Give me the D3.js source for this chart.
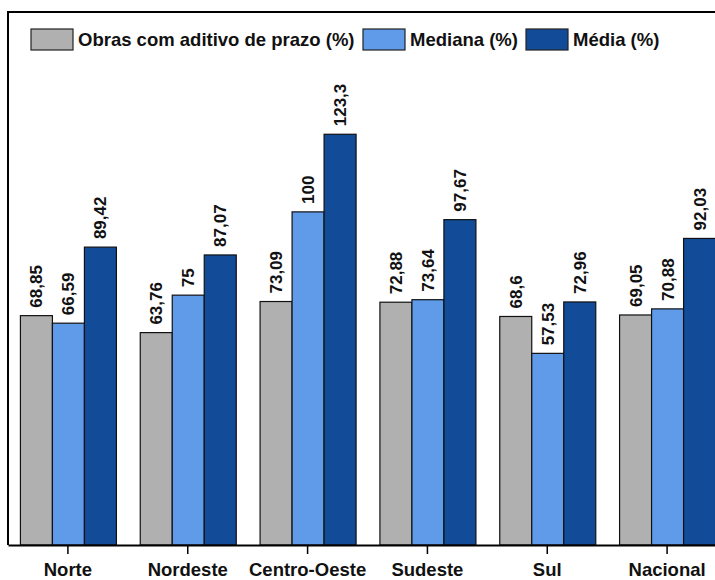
<!DOCTYPE html>
<html>
<head>
<meta charset="utf-8">
<script src="https://cdn.jsdelivr.net/npm/d3@7"></script>
<style>
  html, body { margin: 0; padding: 0; background: #fff; }
  svg { display: block; font-family: "Liberation Sans", Arial, sans-serif; }
</style>
</head>
<body>
<svg id="chart" width="715" height="580"></svg>
<script>
// Regions and the three series (percent values)
const regions = ["Norte", "Nordeste", "Centro-Oeste", "Sudeste", "Sul", "Nacional"];
const seriesNames = ["Obras com aditivo de prazo (%)", "Mediana (%)", "Média (%)"];
const obras   = [68.85, 63.76, 73.09, 72.88, 68.6, 69.05];
const mediana = [66.59, 75, 100, 73.64, 57.53, 70.88];
const media   = [89.42, 87.07, 123.3, 97.67, 72.96, 92.03];
const colors  = ["#b0b0b0", "#5f9be9", "#124b97"];
const yDomain = [0, 160];

const seriesValues = [obras, mediana, media];
const rows = regions.map((r, i) => ({
  region: r,
  values: seriesValues.map((s, k) => ({ key: k, value: s[i] }))
}));

const svg = d3.select("#chart");
const plotLeft = 8, plotTop = 12, plotBottom = 545, plotRight = 727;

const x0 = d3.scaleBand().domain(regions).range([plotLeft, plotRight]).paddingInner(0).paddingOuter(0);
const groupW = 96;
const x1 = d3.scaleBand().domain(d3.range(seriesNames.length)).range([0, groupW]).padding(0);
const y = d3.scaleLinear().domain(yDomain).range([plotBottom, plotTop]);

const fmt = v => String(v).replace(".", ",");

// Bars
const groups = svg.append("g").selectAll("g").data(rows).join("g")
  .attr("transform", d => `translate(${x0(d.region) + (x0.bandwidth() - groupW) / 2 + 0.5},0)`);

groups.selectAll("rect").data(d => d.values).join("rect")
  .attr("x", d => x1(d.key))
  .attr("y", d => y(d.value))
  .attr("width", x1.bandwidth())
  .attr("height", d => y(0) - y(d.value))
  .attr("fill", d => colors[d.key])
  .attr("stroke", "#111")
  .attr("stroke-width", 1.2);

// Value labels, rotated above each bar
groups.selectAll("text").data(d => d.values).join("text")
  .attr("transform", d => `translate(${x1(d.key) + x1.bandwidth() / 2 + 6},${y(d.value) - 8}) rotate(-90)`)
  .attr("text-anchor", "start")
  .attr("font-size", 17)
  .attr("font-weight", "bold")
  .attr("fill", "#111")
  .text(d => fmt(d.value));

// Frame: top and left edges
svg.append("path")
  .attr("d", `M${plotLeft},${plotBottom} V${plotTop} H${plotRight}`)
  .attr("fill", "none")
  .attr("stroke", "#000")
  .attr("stroke-width", 2);

// X axis
const xAxis = svg.append("g")
  .attr("transform", `translate(0,${plotBottom})`)
  .call(d3.axisBottom(x0).tickSize(9).tickSizeOuter(0));
xAxis.select(".domain").attr("stroke", "#000").attr("stroke-width", 2);
xAxis.selectAll(".tick line").attr("stroke", "#000").attr("stroke-width", 1.5);
xAxis.selectAll(".tick text")
  .attr("y", 31)
  .attr("dy", 0)
  .attr("font-size", 18.5)
  .attr("font-weight", "bold")
  .attr("font-family", "Liberation Sans, Arial, sans-serif")
  .attr("fill", "#111");

// Legend
const legendX = [31, 363, 526];
const legend = svg.append("g").selectAll("g").data(seriesNames).join("g")
  .attr("transform", (d, i) => `translate(${legendX[i]},29)`);
legend.append("rect")
  .attr("width", 42).attr("height", 21)
  .attr("fill", (d, i) => colors[i])
  .attr("stroke", "#222").attr("stroke-width", 1.2);
legend.append("text")
  .attr("x", 47).attr("y", 17)
  .attr("font-size", 18.5)
  .attr("font-weight", "bold")
  .attr("fill", "#111")
  .text(d => d);
</script>
</body>
</html>
